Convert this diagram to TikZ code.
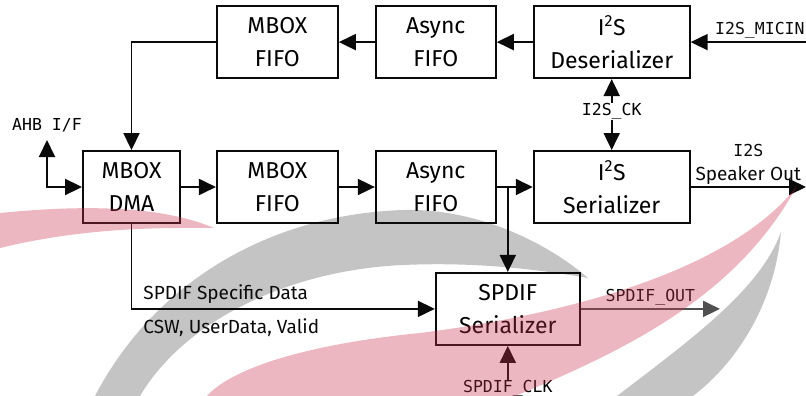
\documentclass[tikz,border=0pt]{standalone}
\usepackage{fontspec}
\setmainfont{Fira Sans}
\setmonofont{DejaVu Sans Mono}
\usepackage{tikz}
\usetikzlibrary{arrows.meta, positioning}
\usepackage{xcolor}
\definecolor{RichBlack}{RGB}{10, 10, 10}
\definecolor{SwooshGray}{RGB}{196, 196, 196}
\definecolor{SwooshRed}{RGB}{200, 50, 75}
\definecolor{OutGray}{RGB}{80, 80, 80}
\tikzset{%
  block/.style={%
    rectangle,%
    draw=RichBlack,%
    line width=1.9pt,%
    minimum height=72pt,%
    inner sep=0pt,%
    font={\fontsize{23}{33}\selectfont},%
    align=center%
  },
  signal/.style={%
    color=RichBlack,%
    line width=1.9pt,%
    line join=miter%
  },
  arrow/.style={-{Triangle[length=17pt, width=16pt]}},
  twoway/.style={{Triangle[length=17pt, width=16pt]}-{Triangle[length=17pt, width=16pt]}},
  annotate/.style={%
    font={\fontsize{19}{24}\selectfont},%
    inner sep=0pt,%
  },
  wire_label/.style={%
    font={\ttfamily\fontsize{16.5}{24}\selectfont},%
    inner sep=0pt,%
  },
  swoosh_back/.style={fill=SwooshGray, draw=none},
  swoosh_front/.style={fill=SwooshRed, fill opacity=0.35, draw=none},
}

\begin{document}
\begin{tikzpicture}[x=1pt, y=-1pt]
  \useasboundingbox (0,0) rectangle (806,396);

  % watermark, grey part behind
  \path[swoosh_back] (95,396) .. controls (150,290) and (260,215) .. (403,210)
    .. controls (480,208) and (550,245) .. (588,278)
    .. controls (530,268) and (470,262) .. (403,265)
    .. controls (290,270) and (185,320) .. (140,396) -- cycle;
  \path[swoosh_back] (781,232) .. controls (775,300) and (740,360) .. (693,396)
    -- (617,396) .. controls (690,340) and (760,290) .. (781,232) -- cycle;

  \node[block, minimum width=97pt] (DMA) at (131.5,187) {MBOX\\DMA};
  \node[block, minimum width=121pt, right = 35pt of DMA] (MF1) {MBOX\\FIFO};
  \node[block, minimum width=120pt, right = 36pt of MF1] (AF1) {Async\\FIFO};
  \node[block, minimum width=156pt, right = 36pt of AF1] (SER) {I\textsuperscript{2}S\\Serializer};
  \node[block, minimum width=121pt, above = 71pt of MF1] (MF2) {MBOX\\FIFO};
  \node[block, minimum width=120pt, above = 71pt of AF1] (AF2) {Async\\FIFO};
  \node[block, minimum width=156pt, above = 71pt of SER] (DES) {I\textsuperscript{2}S\\Deserializer};
  \node[block, minimum width=144pt, below = 48pt of AF1, xshift=72pt] (SPD) {SPDIF\\Serializer};

  \node[wire_label, below = 24pt of DES] (CK) {I2S\_CK};
  \node[wire_label, below = 34pt of SPD] (CLK) {SPDIF\_CLK};

  \coordinate (RIM) at (806,0);
  \coordinate (AHB) at (47,140);
  \coordinate (MICIN) at (DES.east -| RIM);
  \coordinate (SPK) at (SER.east -| RIM);
  \coordinate (SPOUT) at (720,0 |- SPD.east);
  \coordinate (BR) at (SPD.north |- AF1.east);
  \node[wire_label, above = 8pt of AHB] (AHBL) {AHB I/F};

  \draw[signal, arrow] (MICIN) -- node[wire_label, above=3pt, pos=0.4] {I2S\_MICIN} (DES.east);
  \draw[signal, arrow] (DES.west) -- (AF2.east);
  \draw[signal, arrow] (AF2.west) -- (MF2.east);
  \draw[signal, arrow] (MF2.west) -| (DMA.north);
  \draw[signal, twoway] (AHB) |- (DMA.west);
  \draw[signal, arrow] (DMA.east) -- (MF1.west);
  \draw[signal, arrow] (MF1.east) -- (AF1.west);
  \draw[signal, arrow] (AF1.east) -- (SER.west);
  \draw[signal, arrow] (BR) -- (SPD.north);
  \draw[signal, arrow] (CK.north) -- (DES.south);
  \draw[signal, arrow] (CK.south) -- (SER.north);
  \draw[signal, arrow] (SER.east) -- node[annotate, above=2pt, align=center]
    {{\ttfamily\fontsize{16.5}{24}\selectfont I2S}\\Speaker Out} (SPK);
  \draw[signal, arrow] (DMA.south) |-
    node[annotate, pos=0.5, anchor=south west, xshift=11pt, yshift=4pt] {SPDIF Specific Data}
    node[annotate, pos=0.5, anchor=north west, xshift=11pt, yshift=-9pt] {CSW, UserData, Valid}
    (SPD.west);
  \draw[signal, arrow, color=OutGray] (SPD.east) -- node[wire_label, above=3pt, text=RichBlack] {SPDIF\_OUT} (SPOUT);
  \draw[signal, arrow] (CLK.north) -- (SPD.south);

  % watermark, red part in front
  \path[swoosh_front] (0,213) .. controls (80,205) and (160,205) .. (214,228)
    .. controls (170,228) and (90,226) .. (0,248) -- cycle;
  \path[swoosh_front] (797,186) .. controls (740,260) and (600,310) .. (420,333)
    .. controls (300,345) and (230,370) .. (207,396)
    -- (515,396) .. controls (640,345) and (740,290) .. (797,186) -- cycle;
\end{tikzpicture}
\end{document}
